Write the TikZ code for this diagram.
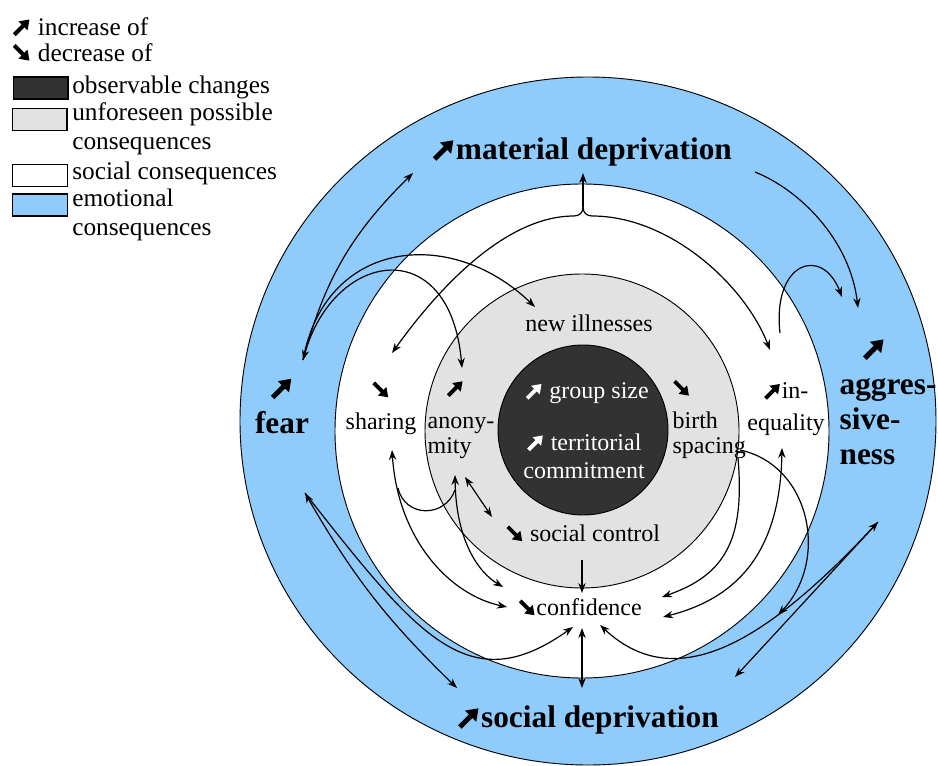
\documentclass[tikz,border=0pt]{standalone}
\usepackage{fontspec}
\setmainfont{Liberation Serif}
\usetikzlibrary{arrows.meta}

\definecolor{emoblue}{RGB}{143,203,251}
\definecolor{unfgray}{RGB}{226,226,226}
\definecolor{obsdark}{RGB}{50,50,50}

% heavy arrows for increase / decrease
\newcommand{\incr}{\tikz[baseline=0pt]\draw[line width=0.16em, -{Triangle[length=0.36em,width=0.48em]}] (0,0.02em) -- (0.6em,0.62em);}
\newcommand{\decr}{\tikz[baseline=0pt]\draw[line width=0.16em, -{Triangle[length=0.36em,width=0.48em]}] (0,0.62em) -- (0.6em,0.02em);}
\newcommand{\bigtxt}{\fontsize{23.5}{26.5}\selectfont\bfseries}
\newcommand{\midtxt}{\fontsize{18}{24}\selectfont}
\newcommand{\legtxt}{\fontsize{19}{21.75}\selectfont}

\begin{document}
\begin{tikzpicture}[x=0.75pt, y=0.75pt, >={Stealth[length=7.5pt,width=5.5pt]},
    conn/.style={line width=0.9pt},
    ring/.style={draw, line width=0.7pt},
    big/.style={font=\bigtxt, inner sep=1pt},
    mid/.style={font=\midtxt, inner sep=1pt},
    leg/.style={font=\legtxt, anchor=west, inner sep=0pt, align=left},
    legbox/.style={draw, line width=1pt, minimum width=41pt, minimum height=16.5pt, inner sep=0pt}]

    \useasboundingbox (0,0) rectangle (938,765);

    % Rings
    \draw[ring, fill=emoblue] (588,344) ellipse [x radius=348, y radius=344];
    \draw[ring, fill=white] (582,334) circle [radius=247];
    \draw[ring, fill=unfgray] (582,334) circle [radius=157];
    \draw[ring, fill=obsdark] (583,335) circle [radius=85];

    % Legend
    \node[leg] (kinc) at (12,738) {\incr\ increase of};
    \node[leg] (kdec) at (12,712) {\decr\ decrease of};
    \node[legbox, fill=obsdark] (kobs) at (40.5,677) {};
    \node[legbox, fill=unfgray] (kunf) at (39.5,645.5) {};
    \node[legbox, fill=white] (ksoc) at (40,589.5) {};
    \node[legbox, fill=emoblue] (kemo) at (40,560) {};
    \node[leg] (lobs) at (72,678) {observable changes};
    \node[leg] (lunf) at (72,636.5) {unforeseen possible\\consequences};
    \node[leg] (lsoc) at (72,592) {social consequences};
    \node[leg] (lemo) at (72,550.5) {emotional\\consequences};

    % Connector ends
    \coordinate (fear-t) at (303,405);
    \coordinate (fear-b) at (305,272);
    \coordinate (matdep-sw) at (413,592);
    \coordinate (matdep-s) at (583,592);
    \coordinate (matdep-e) at (755,593);
    \coordinate (J) at (583,558);
    \coordinate (newill-w) at (535,458);
    \coordinate (anon-t) at (462,397);
    \coordinate (anon-b) at (455,290);
    \coordinate (anon-b2) at (465,288);
    \coordinate (anon-j) at (455,275);
    \coordinate (share-t) at (392,412);
    \coordinate (share-b) at (392,315);
    \coordinate (share-j) at (398,277);
    \coordinate (ineq-t) at (770,415);
    \coordinate (ineq-n) at (780,432);
    \coordinate (ineq-b) at (782,317);
    \coordinate (birth-b) at (738,307);
    \coordinate (birth-e) at (740,315);
    \coordinate (aggr-t) at (858,457);
    \coordinate (aggr-tl) at (842,468);
    \coordinate (aggr-b) at (878,243);
    \coordinate (socctl-nw) at (492,248);
    \coordinate (socctl-s) at (582,205);
    \coordinate (conf-n) at (582,172);
    \coordinate (conf-s) at (582,137);
    \coordinate (conf-sw) at (573,138);
    \coordinate (conf-se) at (600,140);
    \coordinate (conf-w1) at (507,158);
    \coordinate (conf-w2) at (503,178);
    \coordinate (conf-e1) at (662,168);
    \coordinate (conf-e2) at (663,148);
    \coordinate (socdep-n) at (582,77);
    \coordinate (socdep-w) at (457,77);
    \coordinate (socdep-e) at (735,88);
    \coordinate (sd-ne) at (778,150);

    % Upper connectors
    \draw[conn,<->] (fear-t) to[bend left=15] (matdep-sw);
    \draw[conn,->] (fear-t) .. controls (325,525) and (450,540) .. (newill-w);
    \draw[conn,->] (fear-t) .. controls (330,515) and (450,535) .. (anon-t);
    \draw[conn,->] (J) -- (matdep-s);
    \draw[conn,->] (J) .. controls +(0,-6) and +(5,0) .. (574,549) .. controls (500,549) and (430,465) .. (share-t);
    \draw[conn,->] (J) .. controls +(0,-6) and +(-5,0) .. (592,549) .. controls (670,549) and (745,480) .. (ineq-t);
    \draw[conn,->] (matdep-e) .. controls (800,575) and (850,525) .. (aggr-t);
    \draw[conn,->] (ineq-n) .. controls (772,503) and (822,520) .. (aggr-tl);

    % Lower connectors
    \draw[conn,<->] (fear-b) to[bend right=8] (socdep-w);
    \draw[conn,->] (fear-b) .. controls (420,125) and (470,65) .. (conf-sw);
    \draw[conn,<->] (aggr-b) -- (socdep-e);
    \draw[conn,->] (aggr-b) .. controls (774,131) and (680,65) .. (conf-se);
    \draw[conn,<->] (share-b) .. controls (398,225) and (450,170) .. (conf-w1);
    \draw[conn] (anon-j) .. controls (445,247) and (405,247) .. (share-j);
    \draw[conn,<->] (anon-b) .. controls (456,225) and (478,193) .. (conf-w2);
    \draw[conn,<->] (anon-b2) -- (socctl-nw);
    \draw[conn,->] (socctl-s) -- (conf-n);
    \draw[conn,<->] (conf-s) -- (socdep-n);
    \draw[conn,->] (birth-b) .. controls (745,225) and (725,190) .. (conf-e1);
    \draw[conn,<->] (ineq-b) .. controls (780,205) and (730,165) .. (conf-e2);
    \draw[conn,->] (birth-e) .. controls (810,300) and (830,205) .. (sd-ne);

    % Labels
    \node[big] (matdep) at (582,613) {\incr material deprivation};
    \node[big, align=center] (fear) at (282,360) {\incr\\fear};
    \node[big, align=left, anchor=west] (aggr) at (838,364) {\hspace*{17pt}\incr\\aggres-\\sive-\\ness};
    \node[big] (socdep) at (588,45) {\incr social deprivation};
    \node[mid] (newill) at (589,442) {new illnesses};
    \node[mid, align=center] (sharing) at (381,357) {\decr\\sharing};
    \node[mid, align=left, anchor=west] (anon) at (426,346) {\hspace*{14pt}\incr\\anony-\\[-5pt]mity};
    \node[mid, align=left, anchor=west] (birth) at (671,346) {\decr\\birth\\[-5pt]spacing};
    \node[mid, align=center] (ineq) at (786,356) {\incr in-\\equality};
    \node[mid, text=white] (grpsize) at (587,372) {\incr\ group size};
    \node[mid, text=white, align=center] (terr) at (584,309) {\incr\ territorial\\[-3pt]commitment};
    \node[mid] (socctl) at (583,231) {\decr\ social control};
    \node[mid] (conf) at (580,157) {\decr confidence};
\end{tikzpicture}
\end{document}
